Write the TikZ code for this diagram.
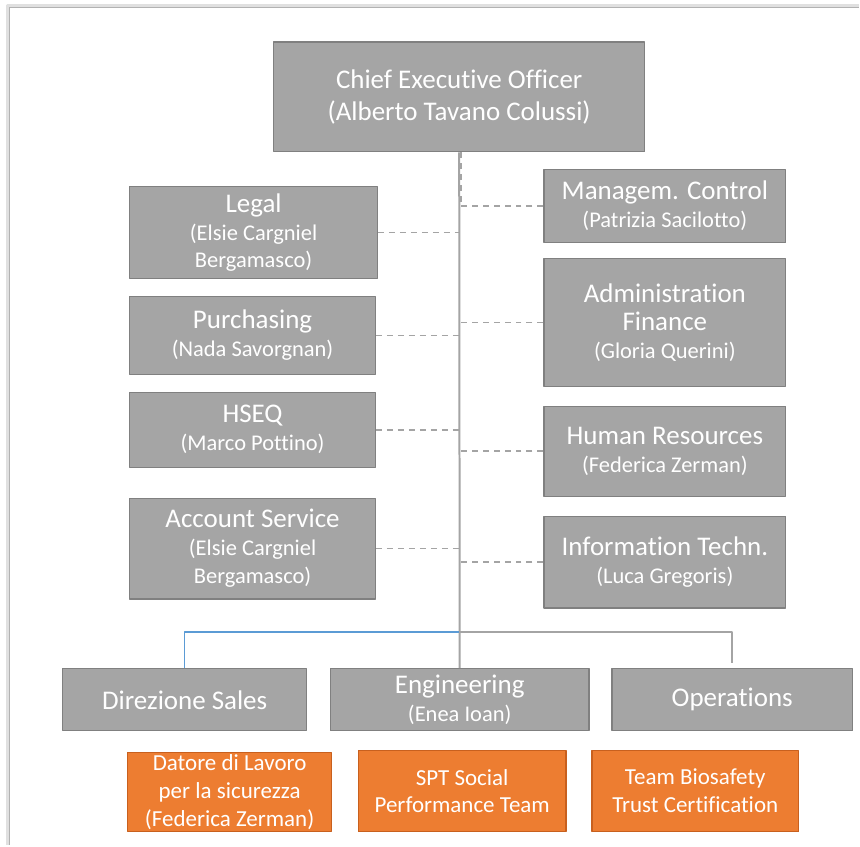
\documentclass[tikz,border=0pt]{standalone}
\usepackage{fontspec}
\setmainfont[Ligatures=NoCommon]{Carlito}
\usetikzlibrary{positioning,calc}
\definecolor{boxgray}{HTML}{A5A5A5}
\definecolor{boxline}{HTML}{808080}
\definecolor{linegray}{HTML}{A4A4A4}
\definecolor{teamorange}{HTML}{ED7D31}
\definecolor{teamline}{HTML}{C8601E}
\definecolor{salesblue}{HTML}{5B9BD5}
\newcommand{\headf}{\fontsize{27}{32}\selectfont}
\newcommand{\namef}{\fontsize{22.5}{28}\selectfont}
\newcommand{\teamf}{\fontsize{23}{28}\selectfont}

\begin{document}
\begin{tikzpicture}[x=1pt, y=-1pt, line join=round,
  unit/.style={draw=boxline, line width=1.2pt, fill=boxgray, text=white, align=center, inner sep=0pt, font=\namef},
  team/.style={unit, draw=teamline, fill=teamorange, font=\teamf},
  staff/.style={linegray, line width=1.6pt, dash pattern=on 6pt off 5pt},
  trunk/.style={linegray, line width=2pt}]
\fill[white] (0,0) rectangle (860,846);
\draw[black!12, line width=3pt] (8,846) -- (8,6) -- (860,6);
\draw[black!30, line width=1pt] (10,846) -- (10,8) -- (860,8);
\node[unit, minimum width=372pt, minimum height=110pt, font=\headf] (ceo) at (460,97) {Chief Executive Officer\\(Alberto Tavano Colussi)};
\node[unit, minimum width=248pt, minimum height=92pt] (legal) at (254,233) {{\headf Legal}\\(Elsie Cargniel\\Bergamasco)};
\node[unit, minimum width=246pt, minimum height=78pt] (purch) at (253,336) {{\headf Purchasing}\\(Nada Savorgnan)};
\node[unit, minimum width=246pt, minimum height=75pt] (hseq) at (253,430.5) {{\headf HSEQ}\\(Marco Pottino)};
\node[unit, minimum width=246pt, minimum height=101pt] (acct) at (253,549.5) {{\headf Account Service}\\(Elsie Cargniel\\Bergamasco)};
\node[unit, minimum width=242pt, minimum height=73pt] (mgmt) at (666,206.5) {{\headf Managem. Control}\\(Patrizia Sacilotto)};
\node[unit, minimum width=242pt, minimum height=128pt] (admin) at (666,323) {{\headf Administration}\\{\headf Finance}\\(Gloria Querini)};
\node[unit, minimum width=242pt, minimum height=90pt] (hr) at (666,452) {{\headf Human Resources}\\(Federica Zerman)};
\node[unit, minimum width=242pt, minimum height=92pt] (it) at (666,563) {{\headf Information Techn.}\\(Luca Gregoris)};
\node[unit, minimum width=244pt, minimum height=62pt, font=\headf] (sales) at (185,701) {Direzione Sales};
\node[unit, minimum width=259pt, minimum height=62pt] (eng) at (460.5,701) {{\headf Engineering}\\(Enea Ioan)};
\node[unit, minimum width=241pt, minimum height=62pt, font=\headf] (ops) at (733.5,701) {Operations};
\node[team, minimum width=204pt, minimum height=79pt] (safety) at (230,793.5) {Datore di Lavoro\\per la sicurezza\\(Federica Zerman)};
\node[team, minimum width=208pt, minimum height=81pt] (spt) at (463,792.5) {SPT Social\\Performance Team};
\node[team, minimum width=207pt, minimum height=81pt] (bio) at (696.5,792.5) {Team Biosafety\\Trust Certification};
\draw[trunk] (ceo.south) -- (eng.north);
\draw[staff] ($(ceo.south)+(2,0)$) -- ($(mgmt.west -| ceo.south)+(2,0)$);
\draw[staff] (legal.east) -- (legal.east -| ceo.south);
\draw[staff] (purch.east) -- (purch.east -| ceo.south);
\draw[staff] (hseq.east) -- (hseq.east -| ceo.south);
\draw[staff] (acct.east) -- (acct.east -| ceo.south);
\draw[staff] (mgmt.west) -- (mgmt.west -| ceo.south);
\draw[staff] (admin.west) -- (admin.west -| ceo.south);
\draw[staff] (hr.west) -- (hr.west -| ceo.south);
\draw[staff] (it.west) -- (it.west -| ceo.south);
\coordinate (fork) at (ceo.south |- 0,633);
\draw[trunk, shorten >=5pt] (fork) -| (ops.north);
\draw[salesblue, line width=1.6pt] (fork) -| (sales.north);
\end{tikzpicture}
\end{document}
